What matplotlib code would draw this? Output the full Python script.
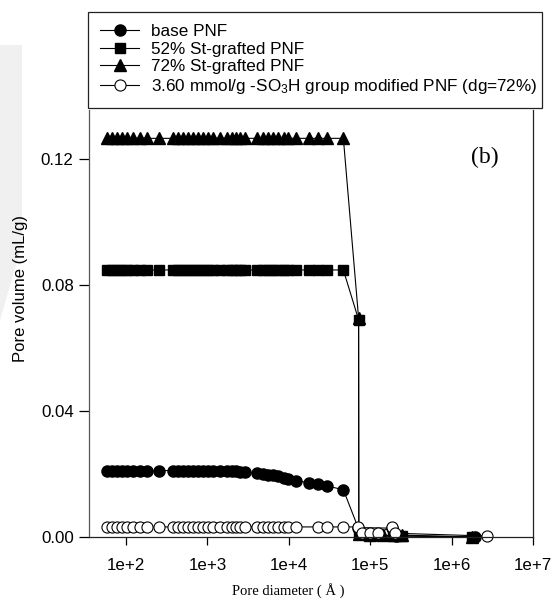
import matplotlib
matplotlib.use("Agg")
import matplotlib.pyplot as plt
from matplotlib.patches import Polygon
from matplotlib.ticker import FixedLocator, FixedFormatter, NullLocator

plt.rcParams['font.family'] = ['Liberation Sans', 'DejaVu Sans']
plt.rcParams['mathtext.default'] = 'regular'

# pore diameter grid (Angstrom) shared by the flat part of every curve
GRID = [58, 66.7, 76.9, 88.6, 102, 123, 149, 180, 256, 375, 439, 506, 583,
        671, 773, 891, 1026, 1181, 1428, 1726, 1990, 2246, 2514, 2896, 4033,
        4865, 5603, 6452, 7432, 8730, 9860, 12250, 17860, 23030, 29700, 46800]

# base PNF
BASE_X = GRID + [71000, 185000, 210000, 1950000]
BASE_Y = [0.0211] * 22 + [0.0208, 0.0206, 0.0203, 0.0200, 0.0198, 0.0196,
                          0.0193, 0.0188, 0.0183, 0.0178, 0.0173, 0.0167,
                          0.0162, 0.0150] + [0.0030, 0.0028, 0.0004, 0.0]

# 52% St-grafted PNF
ST52_X = GRID + [72000, 72500, 95000, 130000, 190000, 245000, 1780000]
ST52_Y = [0.0848] * 36 + [0.0690, 0.0008, 0.0006, 0.0005, 0.0004, 0.0003, 0.0]

# 72% St-grafted PNF
ST72_X = GRID + [72000, 72500, 100000, 145000, 200000, 245000, 1800000]
ST72_Y = [0.1266] * 36 + [0.0695, 0.0008, 0.0006, 0.0005, 0.0005, 0.0006, 0.0]

# -SO3H modified PNF (no reading at 17860)
SO3H_X = [x for x in GRID if x != 17860] + [71500, 79000, 99000, 124000,
                                            186000, 200000, 2760000]
SO3H_Y = [0.0032] * 35 + [0.0032, 0.0012, 0.0012, 0.0012, 0.0033, 0.0012, 0.0003]

X_TICKS = [1e2, 1e3, 1e4, 1e5, 1e6, 1e7]
X_LABELS = ['1e+2', '1e+3', '1e+4', '1e+5', '1e+6', '1e+7']
Y_TICKS = [0.0, 0.04, 0.08, 0.12]
Y_LABELS = ['0.00', '0.04', '0.08', '0.12']

fig = plt.figure(figsize=(5.55, 5.99), dpi=100)

# faint grey band on the left edge, kept behind everything
band = Polygon([(0, 1 - 45 / 599), (22 / 555, 1 - 45 / 599),
                (22 / 555, 1 - 245 / 599), (0, 1 - 320 / 599)],
               closed=True, transform=fig.transFigure,
               facecolor='#f0f0f0', edgecolor='none', zorder=-5)
fig.patches.append(band)

ax = fig.add_axes([89 / 555, 1 - 537 / 599, 444 / 555, 427 / 599])
ax.patch.set_alpha(0)

style = dict(color='black', lw=0.8, clip_on=False)
ax.plot(BASE_X, BASE_Y, marker='o', ms=8, mfc='black', mec='black',
        label='base PNF', **style)
ax.plot(ST52_X, ST52_Y, marker='s', ms=7.5, mfc='black', mec='black',
        label='52% St-grafted PNF', **style)
ax.plot(ST72_X, ST72_Y, marker='^', ms=8.5, mfc='black', mec='black',
        label='72% St-grafted PNF', **style)
ax.plot(SO3H_X, SO3H_Y, marker='o', ms=8, mfc='white', mec='black', mew=0.8,
        label='3.60 mmol/g -SO$_3$H group modified PNF (dg=72%)', **style)

ax.set_xscale('log')
ax.set_xlim(35.1, 1e7)
ax.set_ylim(0, 0.1356)
ax.xaxis.set_major_locator(FixedLocator(X_TICKS))
ax.xaxis.set_major_formatter(FixedFormatter(X_LABELS))
ax.xaxis.set_minor_locator(NullLocator())
ax.yaxis.set_major_locator(FixedLocator(Y_TICKS))
ax.yaxis.set_major_formatter(FixedFormatter(Y_LABELS))

ax.spines['top'].set_visible(False)
for s in ('left', 'bottom', 'right'):
    ax.spines[s].set_linewidth(0.9)
    ax.spines[s].set_color('#222222')
ax.spines['left'].set_color('#555555')
ax.tick_params(axis='both', direction='out', labelsize=12.2, width=0.9,
               top=False, right=False)
ax.tick_params(axis='y', length=7, pad=4)
ax.tick_params(axis='x', length=6, pad=9)

ax.set_ylabel('Pore volume (mL/g)', fontsize=12)
ax.yaxis.set_label_coords(-0.137, 0.581)
ax.set_xlabel('Pore diameter ( Å )', fontsize=10.5, family='Liberation Serif')
ax.xaxis.set_label_coords(0.448, -0.108)

ax.text(0.892, 0.89, '(b)', transform=ax.transAxes, fontsize=17,
        family='Liberation Serif', ha='center', va='center')

leg = fig.legend(loc='upper left',
                 bbox_to_anchor=(88 / 555, 1 - 12 / 599, 454 / 555, 0),
                 mode='expand', borderaxespad=0, fontsize=12.3,
                 frameon=True, fancybox=False, framealpha=1,
                 edgecolor='#222222', borderpad=0.7, labelspacing=0.15,
                 handlelength=2.3, handletextpad=0.7)
leg.get_frame().set_linewidth(0.9)

fig.savefig('out.png', dpi=100)
